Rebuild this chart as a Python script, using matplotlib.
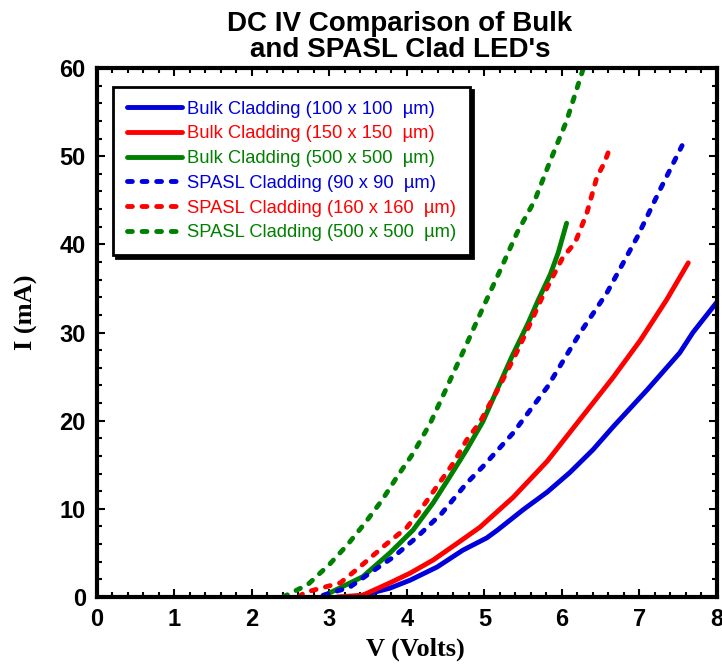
import matplotlib

matplotlib.use("Agg")
import matplotlib.pyplot as plt
from matplotlib.ticker import MultipleLocator

# Bulk cladding curves (V in volts, I in mA)
bulk100_v = [3.2, 3.39, 3.78, 4.04, 4.39, 4.72, 5.03, 5.17, 5.5, 5.81, 6.1, 6.4, 6.66, 7.1, 7.52, 7.69, 7.95, 8.05]
bulk100_i = [0.0, 0.1, 1.0, 1.9, 3.4, 5.3, 6.7, 7.6, 9.9, 11.9, 14.1, 16.7, 19.3, 23.5, 27.7, 30.0, 32.9, 34.0]

bulk150_v = [3.1, 3.43, 3.78, 4.04, 4.34, 4.65, 4.94, 5.37, 5.81, 6.23, 6.66, 7.01, 7.35, 7.63]
bulk150_i = [0.0, 0.2, 1.6, 2.7, 4.2, 6.1, 7.9, 11.3, 15.4, 20.1, 24.9, 29.1, 33.7, 37.9]

bulk500_v = [2.9, 3.0, 3.43, 3.78, 4.08, 4.34, 4.55, 4.77, 4.98, 5.35, 5.56, 5.7, 5.85, 5.95, 6.06]
bulk500_i = [0.0, 0.45, 2.3, 5.0, 7.6, 10.7, 13.6, 16.7, 19.9, 27.2, 31.0, 33.8, 36.6, 39.0, 42.4]

# SPASL cladding curves
spasl90_v = [2.92, 3.26, 3.52, 3.82, 4.13, 4.45, 4.77, 4.98, 5.37, 5.81, 6.23, 6.58, 6.97, 7.26, 7.55]
spasl90_i = [0.2, 1.1, 2.7, 4.5, 6.8, 9.5, 12.9, 14.8, 18.6, 23.8, 29.9, 34.5, 40.8, 46.1, 51.2]

spasl160_v = [2.6, 2.68, 3.14, 3.39, 3.72, 4.0, 4.2, 4.4, 4.6, 4.77, 4.94, 5.2, 5.43, 5.59,
              5.74, 5.88, 6.01, 6.17, 6.32, 6.45, 6.55, 6.6]
spasl160_i = [0.0, 0.5, 1.6, 3.4, 5.9, 7.9, 10.2, 12.7, 15.2, 17.8, 19.8, 24.0, 28.0, 31.0,
              33.9, 36.3, 38.5, 40.2, 43.5, 47.6, 49.3, 50.5]

spasl500_v = [2.4, 2.72, 3.0, 3.23, 3.46, 3.68, 3.87, 4.08, 4.3, 4.5, 4.75, 4.98, 5.2, 5.42,
              5.65, 5.85, 6.06, 6.27]
spasl500_i = [0.0, 1.4, 3.7, 5.9, 8.4, 11.0, 13.6, 16.3, 19.7, 23.5, 28.3, 32.8, 37.0, 41.3,
              45.0, 49.5, 54.0, 59.8]

series = [
    (bulk100_v, bulk100_i, "Bulk Cladding (100 x 100  \u00b5m)", "#0000DD", "-"),
    (bulk150_v, bulk150_i, "Bulk Cladding (150 x 150  \u00b5m)", "#FF0000", "-"),
    (bulk500_v, bulk500_i, "Bulk Cladding (500 x 500  \u00b5m)", "#008000", "-"),
    (spasl90_v, spasl90_i, "SPASL Cladding (90 x 90  \u00b5m)", "#0000DD", "--"),
    (spasl160_v, spasl160_i, "SPASL Cladding (160 x 160  \u00b5m)", "#FF0000", "--"),
    (spasl500_v, spasl500_i, "SPASL Cladding (500 x 500  \u00b5m)", "#008000", "--"),
]

plt.rcParams["font.family"] = ["Liberation Sans", "DejaVu Sans"]

fig = plt.figure(figsize=(7.22, 6.65), dpi=100)
ax = fig.add_axes([0.1343, 0.1023, 0.8587, 0.7954])

for v, i, label, color, style in series:
    if style == "-":
        ax.plot(v, i, color=color, linewidth=3.5, solid_capstyle="round",
                solid_joinstyle="round", label=label)
    else:
        ax.plot(v, i, color=color, linewidth=3.5, dashes=(1.0, 2.0),
                dash_capstyle="round", label=label)

ax.set_xlim(0, 8)
ax.set_ylim(0, 60)
ax.xaxis.set_major_locator(MultipleLocator(1))
ax.xaxis.set_minor_locator(MultipleLocator(0.2))
ax.yaxis.set_major_locator(MultipleLocator(10))
ax.yaxis.set_minor_locator(MultipleLocator(2))
ax.tick_params(which="both", direction="in", top=True, right=True, width=1.5)
ax.tick_params(which="major", length=6, pad=8, labelsize=17)
ax.tick_params(which="minor", length=3.5)
for lab in ax.get_xticklabels() + ax.get_yticklabels():
    lab.set_fontweight("bold")
for spine in ax.spines.values():
    spine.set_linewidth(3)

fig.text(0.554, 0.945, "DC IV Comparison of Bulk\nand SPASL Clad LED's",
         ha="center", va="center", fontsize=20, fontweight="bold", linespacing=1.0)
fig.text(0.575, 0.024, "V (Volts)", ha="center", va="center",
         fontsize=19, fontweight="bold", family="Liberation Serif")
fig.text(0.037, 0.531, "I (mA)", ha="center", va="center", rotation=90,
         fontsize=19, fontweight="bold", family="Liberation Serif")

leg = ax.legend(loc="upper left", bbox_to_anchor=(113 / 722, 1 - 87 / 665),
                bbox_transform=fig.transFigure, fontsize=13.2, frameon=True,
                fancybox=False, shadow={"color": "black", "alpha": 1.0},
                handlelength=3.0, handletextpad=0.3, labelspacing=0.42,
                borderpad=0.75, borderaxespad=0)
leg.get_frame().set_edgecolor("black")
leg.get_frame().set_linewidth(2)
for text, (_, _, _, color, _) in zip(leg.get_texts(), series):
    text.set_color(color)

fig.savefig("out.png", dpi=100)
